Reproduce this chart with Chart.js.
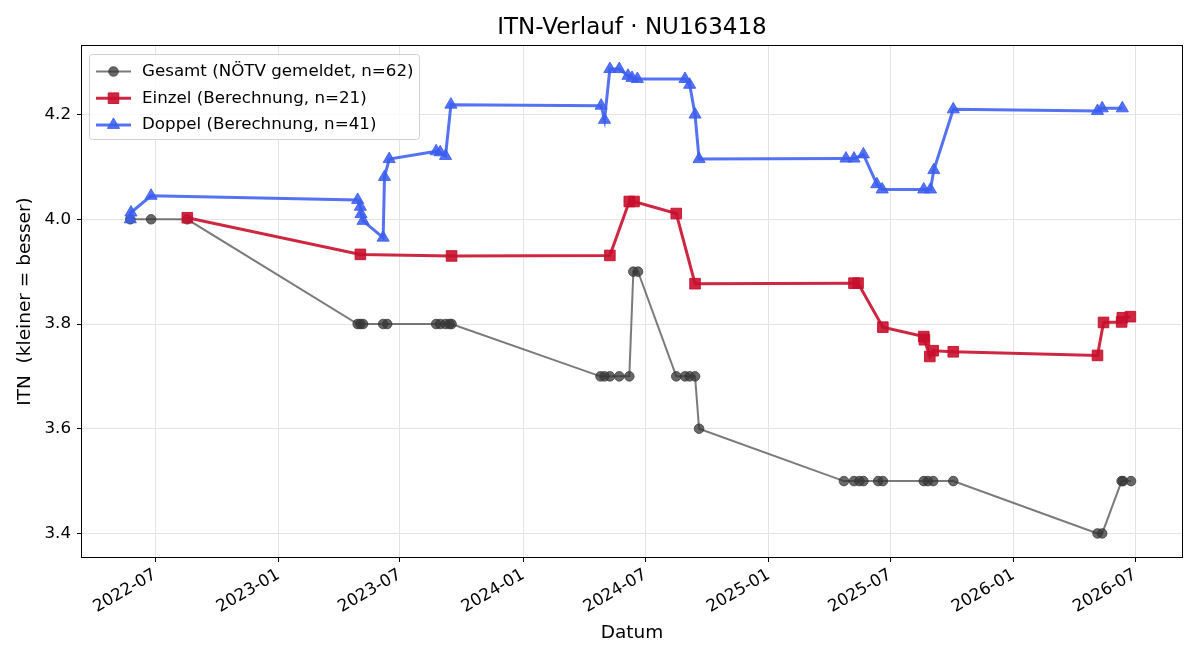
<!DOCTYPE html>
<html>
<head>
<meta charset="utf-8">
<title>ITN-Verlauf</title>
<script src="https://cdn.jsdelivr.net/npm/chart.js@4.4.0/dist/chart.umd.min.js"></script>
<style>
body { margin: 0; background: #fff; }
#wrap { width: 1200px; height: 660px; }
</style>
</head>
<body>
<div id="wrap"><canvas id="mychart_itn" width="1200" height="660"></canvas></div>
<script>
// データ
var gesamtDates = ['2022-05-25', '2022-06-25', '2022-08-18',
  '2023-04-29', '2023-05-03', '2023-05-07', '2023-06-06', '2023-06-12', '2023-08-24', '2023-08-30', '2023-09-07', '2023-09-13', '2023-09-16',
  '2024-04-25', '2024-05-01', '2024-05-09', '2024-05-23', '2024-06-07', '2024-06-13', '2024-06-20',
  '2024-08-16', '2024-08-29', '2024-09-05', '2024-09-13', '2024-09-19',
  '2025-04-23', '2025-05-08', '2025-05-16', '2025-05-22', '2025-06-13', '2025-06-20', '2025-08-20', '2025-08-26', '2025-09-03', '2025-10-03',
  '2026-05-06', '2026-05-13', '2026-06-11', '2026-06-13', '2026-06-25'];
var gesamtValues = [4.0, 4.0, 4.0,
  3.8, 3.8, 3.8, 3.8, 3.8, 3.8, 3.8, 3.8, 3.8, 3.8,
  3.7, 3.7, 3.7, 3.7, 3.7, 3.9, 3.9,
  3.7, 3.7, 3.7, 3.7, 3.6,
  3.5, 3.5, 3.5, 3.5, 3.5, 3.5, 3.5, 3.5, 3.5, 3.5,
  3.4, 3.4, 3.5, 3.5, 3.5];

var einzelDates = ['2022-08-18', '2023-05-03', '2023-09-16', '2024-05-09', '2024-06-07', '2024-06-14', '2024-08-16', '2024-09-13',
  '2025-05-08', '2025-05-14', '2025-06-20', '2025-08-20', '2025-08-21', '2025-08-29', '2025-09-03', '2025-10-03',
  '2026-05-06', '2026-05-15', '2026-06-11', '2026-06-12', '2026-06-24'];
var einzelValues = [4.003, 3.933, 3.930, 3.931, 4.034, 4.034, 4.011, 3.877,
  3.878, 3.878, 3.794, 3.776, 3.770, 3.738, 3.749, 3.747,
  3.740, 3.803, 3.804, 3.812, 3.814];

var doppelDates = ['2022-05-25', '2022-05-26', '2022-06-25',
  '2023-04-29', '2023-05-03', '2023-05-04', '2023-05-07', '2023-06-06', '2023-06-08', '2023-06-15',
  '2023-08-24', '2023-08-30', '2023-09-07', '2023-09-15',
  '2024-04-26', '2024-05-01', '2024-05-09', '2024-05-23', '2024-06-05', '2024-06-11', '2024-06-19',
  '2024-08-29', '2024-09-05', '2024-09-13', '2024-09-19',
  '2025-04-26', '2025-05-08', '2025-05-22', '2025-06-11', '2025-06-19',
  '2025-08-20', '2025-08-30', '2025-09-04', '2025-10-03',
  '2026-05-06', '2026-05-13', '2026-06-12'];
var doppelValues = [4.000, 4.013, 4.045,
  4.037, 4.024, 4.010, 3.997, 3.965, 4.081, 4.115,
  4.130, 4.128, 4.121, 4.219,
  4.217, 4.190, 4.287, 4.287, 4.274, 4.270, 4.268,
  4.268, 4.257, 4.200, 4.115,
  4.116, 4.116, 4.124, 4.067, 4.057,
  4.057, 4.057, 4.094, 4.210,
  4.207, 4.212, 4.212];

// 目盛ラベル
var xTickLabels = ['2022-07', '2023-01', '2023-07', '2024-01', '2024-07', '2025-01', '2025-07', '2026-01', '2026-07'];
var yTicks = [3.4, 3.6, 3.8, 4.0, 4.2];

var FONT = 'DejaVu Sans';

function toPoints(dates, values) {
  var pts = [];
  for (var i = 0; i < dates.length; i++) {
    pts.push({x: Date.parse(dates[i]), y: values[i]});
  }
  return pts;
}

function pad2(n) { return (n < 10 ? '0' : '') + n; }

// タイトル・枠線・凡例
var decorations = {
  id: 'decorations',
  afterDatasetsDraw: function(chart) {
    var ctx = chart.ctx;
    var a = chart.chartArea;
    ctx.save();
    // 枠線
    ctx.strokeStyle = '#000';
    ctx.lineWidth = 1;
    ctx.strokeRect(Math.round(a.left) - 0.5, Math.round(a.top) - 0.5, Math.round(a.right - a.left) + 1, Math.round(a.bottom - a.top) + 1);
    // タイトル
    ctx.fillStyle = '#000';
    ctx.font = '23px "' + FONT + '"';
    ctx.textAlign = 'center';
    ctx.textBaseline = 'middle';
    ctx.fillText('ITN-Verlauf · NU163418', (a.left + a.right) / 2, 28);

    // 凡例
    var bx = 89.5, by = 54.5, bw = 330, bh = 85;
    ctx.beginPath();
    if (ctx.roundRect) ctx.roundRect(bx, by, bw, bh, 3); else ctx.rect(bx, by, bw, bh);
    ctx.fillStyle = 'rgba(255,255,255,0.8)';
    ctx.fill();
    ctx.strokeStyle = '#d0d0d0';
    ctx.stroke();
    var ds = chart.data.datasets;
    for (var i = 0; i < ds.length; i++) {
      var y = 71.5 + i * 26.7;
      ctx.strokeStyle = ds[i].borderColor;
      ctx.lineWidth = ds[i].borderWidth;
      ctx.beginPath();
      ctx.moveTo(96, y);
      ctx.lineTo(131, y);
      ctx.stroke();
      ctx.fillStyle = ds[i].pointBackgroundColor;
      ctx.strokeStyle = ds[i].pointBorderColor;
      ctx.lineWidth = 1;
      Chart.helpers.drawPoint(ctx, {pointStyle: ds[i].pointStyle, radius: ds[i].pointRadius, rotation: 0, borderWidth: 1}, 113.5, y);
      ctx.fillStyle = '#000';
      ctx.font = '16.7px "' + FONT + '"';
      ctx.textAlign = 'left';
      ctx.textBaseline = 'middle';
      ctx.fillText(ds[i].label, 142, y);
    }
    ctx.restore();
  }
};

var ctx_itn = document.getElementById('mychart_itn');
var myChart = new Chart(ctx_itn, {
  type: 'line',
  data: {
    datasets: [{
      label: 'Gesamt (NÖTV gemeldet, n=62)',
      data: toPoints(gesamtDates, gesamtValues),
      borderColor: 'rgba(70,70,70,0.72)',
      borderWidth: 2,
      pointStyle: 'circle',
      pointRadius: 4.8,
      pointBackgroundColor: 'rgba(55,55,55,0.75)',
      pointBorderColor: 'rgba(55,55,55,0.75)',
      pointBorderWidth: 1,
      order: 3,
    }, {
      label: 'Einzel (Berechnung, n=21)',
      data: toPoints(einzelDates, einzelValues),
      borderColor: 'rgba(200,16,46,0.9)',
      borderWidth: 3,
      pointStyle: 'rect',
      pointRadius: 7.5,
      pointBackgroundColor: 'rgba(200,16,46,0.9)',
      pointBorderColor: 'rgba(200,16,46,0.9)',
      pointBorderWidth: 1,
      order: 2,
    }, {
      label: 'Doppel (Berechnung, n=41)',
      data: toPoints(doppelDates, doppelValues),
      borderColor: 'rgba(60,95,240,0.88)',
      borderWidth: 3,
      pointStyle: 'triangle',
      pointRadius: 7,
      pointBackgroundColor: 'rgba(60,95,240,0.88)',
      pointBorderColor: 'rgba(60,95,240,0.88)',
      pointBorderWidth: 1,
      order: 1,
    }],
  },
  options: {
    responsive: false,
    animation: false,
    layout: {
      padding: { top: 46, right: 18, left: 0, bottom: 0 },
    },
    scales: {
      x: {
        type: 'linear',
        min: Date.parse('2022-03-14'),
        max: Date.parse('2026-09-09'),
        afterBuildTicks: function(scale) {
          scale.ticks = xTickLabels.map(function(l) { return {value: Date.parse(l + '-01')}; });
        },
        afterFit: function(scale) { scale.height = 103; },
        ticks: {
          color: '#000',
          font: { family: FONT, size: 16.7 },
          minRotation: 30,
          maxRotation: 30,
          padding: 3,
          autoSkip: false,
          callback: function(v) {
            var d = new Date(v);
            return d.getUTCFullYear() + '-' + pad2(d.getUTCMonth() + 1);
          },
        },
        grid: {
          color: '#e3e3e3',
          lineWidth: 1,
          drawTicks: true,
          tickColor: '#000',
          tickLength: 5,
        },
        border: { display: false },
        title: {
          display: true,
          text: 'Datum',
          color: '#000',
          font: { family: FONT, size: 18.5 },
          padding: { top: 0, bottom: 16 },
        },
      },
      y: {
        min: 3.355,
        max: 4.331,
        afterBuildTicks: function(scale) {
          scale.ticks = yTicks.map(function(v) { return {value: v}; });
        },
        afterFit: function(scale) { scale.width = 82; },
        ticks: {
          color: '#000',
          font: { family: FONT, size: 16.7 },
          padding: 6,
          callback: function(v) { return v.toFixed(1); },
        },
        grid: {
          color: '#e3e3e3',
          lineWidth: 1,
          drawTicks: true,
          tickColor: '#000',
          tickLength: 5,
        },
        border: { display: false },
        title: {
          display: true,
          text: 'ITN  (kleiner = besser)',
          color: '#000',
          font: { family: FONT, size: 18.5 },
          padding: { top: 14, bottom: 0 },
        },
      },
    },
    plugins: {
      legend: { display: false },
      tooltip: { enabled: false },
    },
  },
  plugins: [decorations],
});
</script>
</body>
</html>
